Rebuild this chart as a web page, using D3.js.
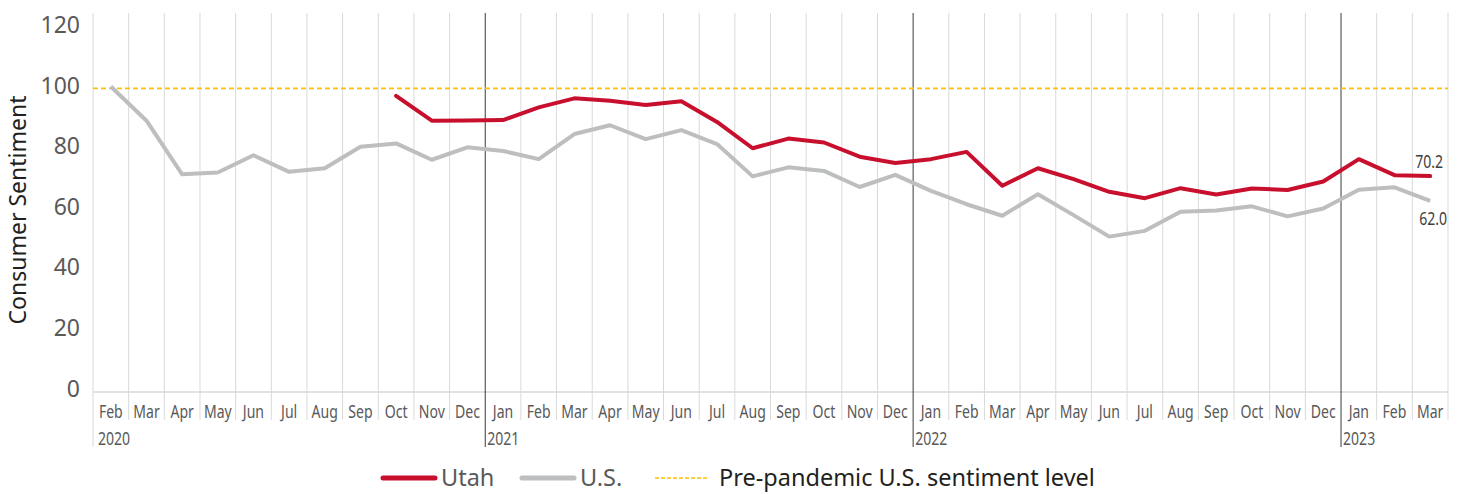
<!DOCTYPE html>
<html>
<head>
<meta charset="utf-8">
<script src="https://cdn.jsdelivr.net/npm/d3@7"></script>
<style>
  body { margin: 0; background: #fff; }
  svg { display: block; }
</style>
</head>
<body>
<div id="chart"></div>
<script>
// month labels, Feb 2020 .. Mar 2023
const months = ["Feb","Mar","Apr","May","Jun","Jul","Aug","Sep","Oct","Nov","Dec",
  "Jan","Feb","Mar","Apr","May","Jun","Jul","Aug","Sep","Oct","Nov","Dec",
  "Jan","Feb","Mar","Apr","May","Jun","Jul","Aug","Sep","Oct","Nov","Dec",
  "Jan","Feb","Mar"];
const yearLabels = ["2020", "2021", "2022", "2023"];
const yearStart = [0, 11, 23, 35];

const usValues = [99.8, 88.5, 70.8, 71.4, 77.1, 71.6, 72.8, 79.9, 81.0, 75.6, 79.7,
  78.5, 75.8, 84.1, 87.0, 82.4, 85.4, 80.8, 70.1, 73.1, 71.9, 66.6, 70.6,
  65.3, 60.9, 57.1, 64.2, 57.3, 50.2, 52.1, 58.4, 58.8, 60.2, 56.9, 59.5,
  65.7, 66.5, 62.0];
// Utah series starts Oct 2020
const utahValues = [null, null, null, null, null, null, null, null, 96.7, 88.5, 88.6,
  88.7, 92.9, 95.9, 95.1, 93.7, 94.9, 88.1, 79.4, 82.6, 81.3, 76.6, 74.5,
  75.8, 78.2, 67.0, 72.8, 69.2, 65.0, 62.9, 66.2, 64.1, 66.1, 65.6, 68.4,
  75.8, 70.5, 70.2];
const prePandemic = 99.2;
const yTicks = [0, 20, 40, 60, 80, 100, 120];

const W = 1459, H = 494;
const svg = d3.select("#chart").append("svg")
  .attr("width", W).attr("height", H);

const idx = months.map((m, i) => i);
const x = d3.scaleBand().domain(idx).range([93, 1448]).padding(0);
const y = d3.scaleLinear().domain([0, 124.1]).range([388.5, 13]);

const tickFont = "'Noto Sans', 'Open Sans', sans-serif";
const narrowFont = "'Noto Sans', 'Open Sans', sans-serif";
const squeeze = 0.74; // condensed look for the small labels

// vertical gridlines at month boundaries
const bounds = d3.range(months.length + 1);
svg.append("g").selectAll("line")
  .data(bounds.filter(i => !yearStart.includes(i) || i === 0))
  .join("line")
  .attr("x1", i => i < months.length ? x(i) : x(months.length - 1) + x.bandwidth())
  .attr("x2", i => i < months.length ? x(i) : x(months.length - 1) + x.bandwidth())
  .attr("y1", y.range()[1])
  .attr("y2", i => i === 0 ? 447 : 420)
  .attr("stroke", "#d9d9d9")
  .attr("stroke-width", 1);

// x axis baseline
svg.append("line")
  .attr("x1", x(0)).attr("x2", x(months.length - 1) + x.bandwidth())
  .attr("y1", 392).attr("y2", 392)
  .attr("stroke", "#d9d9d9").attr("stroke-width", 1.5);

// year separators
svg.append("g").selectAll("line")
  .data(yearStart.filter(i => i > 0))
  .join("line")
  .attr("x1", i => x(i)).attr("x2", i => x(i))
  .attr("y1", y.range()[1]).attr("y2", 447)
  .attr("stroke", "#3a3a3a").attr("stroke-width", 1);

// y tick labels
svg.append("g").selectAll("text")
  .data(yTicks)
  .join("text")
  .attr("x", 80)
  .attr("y", d => y(d) + 8)
  .attr("text-anchor", "end")
  .attr("font-family", tickFont)
  .attr("font-size", 23)
  .attr("fill", "#595959")
  .text(d => d);

// y axis title
svg.append("text")
  .attr("transform", "translate(26,210) rotate(-90)")
  .attr("text-anchor", "middle")
  .attr("font-family", tickFont)
  .attr("font-size", 23)
  .attr("fill", "#231f20")
  .text("Consumer Sentiment");

// month labels
svg.append("g").selectAll("text")
  .data(idx)
  .join("text")
  .attr("transform", i => `translate(${x(i) + x.bandwidth() / 2},418) scale(${squeeze},1)`)
  .attr("text-anchor", "middle")
  .attr("font-family", narrowFont)
  .attr("font-size", 19)
  .attr("fill", "#595959")
  .text(i => months[i]);

// year labels
svg.append("g").selectAll("text")
  .data(yearLabels)
  .join("text")
  .attr("transform", (d, k) => `translate(${x(yearStart[k]) + (k === 0 ? 5 : 2)},445) scale(${squeeze},1)`)
  .attr("font-family", narrowFont)
  .attr("font-size", 19)
  .attr("fill", "#595959")
  .text(d => d);

// pre-pandemic reference line
svg.append("line")
  .attr("x1", x(0)).attr("x2", x(months.length - 1) + x.bandwidth())
  .attr("y1", y(prePandemic)).attr("y2", y(prePandemic))
  .attr("stroke", "#ffc000")
  .attr("stroke-width", 1.6)
  .attr("stroke-dasharray", "5,3");

const line = d3.line()
  .defined(d => d.v != null)
  .x(d => x(d.i) + x.bandwidth() / 2)
  .y(d => y(d.v));

const usData = usValues.map((v, i) => ({ i, v }));
const utahData = utahValues.map((v, i) => ({ i, v }));

svg.append("path")
  .attr("d", line(usData))
  .attr("fill", "none")
  .attr("stroke", "#bcbec0")
  .attr("stroke-width", 4)
  .attr("stroke-linejoin", "round");

svg.append("path")
  .attr("d", line(utahData))
  .attr("fill", "none")
  .attr("stroke", "#c8102e")
  .attr("stroke-width", 4)
  .attr("stroke-linejoin", "round")
  .attr("stroke-linecap", "round");

// end labels
const last = months.length - 1;
const lx = x(last) + x.bandwidth() / 2;
svg.append("text")
  .attr("transform", `translate(${lx - 1},${y(utahValues[last]) - 8}) scale(${squeeze},1)`)
  .attr("text-anchor", "middle")
  .attr("font-family", narrowFont).attr("font-size", 19)
  .attr("fill", "#404040")
  .text(utahValues[last].toFixed(1));
svg.append("text")
  .attr("transform", `translate(${lx + 3},${y(usValues[last]) + 24}) scale(${squeeze},1)`)
  .attr("text-anchor", "middle")
  .attr("font-family", narrowFont).attr("font-size", 19)
  .attr("fill", "#404040")
  .text(usValues[last].toFixed(1));

// legend
const legend = [
  { label: "Utah", color: "#c8102e", w: 5, dash: null, text: "#595959", at: 383 },
  { label: "U.S.", color: "#bcbec0", w: 5, dash: null, text: "#595959", at: 522 },
  { label: "Pre-pandemic U.S. sentiment level", color: "#ffc000", w: 1.6, dash: "4,2", text: "#231f20", at: 655 }
];
const lg = svg.append("g");
legend.forEach(d => {
  lg.append("line")
    .attr("x1", d.at).attr("x2", d.at + 52)
    .attr("y1", 478).attr("y2", 478)
    .attr("stroke", d.color).attr("stroke-width", d.w)
    .attr("stroke-linecap", d.dash ? "butt" : "round")
    .attr("stroke-dasharray", d.dash);
  lg.append("text")
    .attr("x", d.at + (d.dash ? 64 : 58)).attr("y", 486)
    .attr("font-family", tickFont).attr("font-size", 23.5)
    .attr("fill", d.text)
    .text(d.label);
});
</script>
</body>
</html>
